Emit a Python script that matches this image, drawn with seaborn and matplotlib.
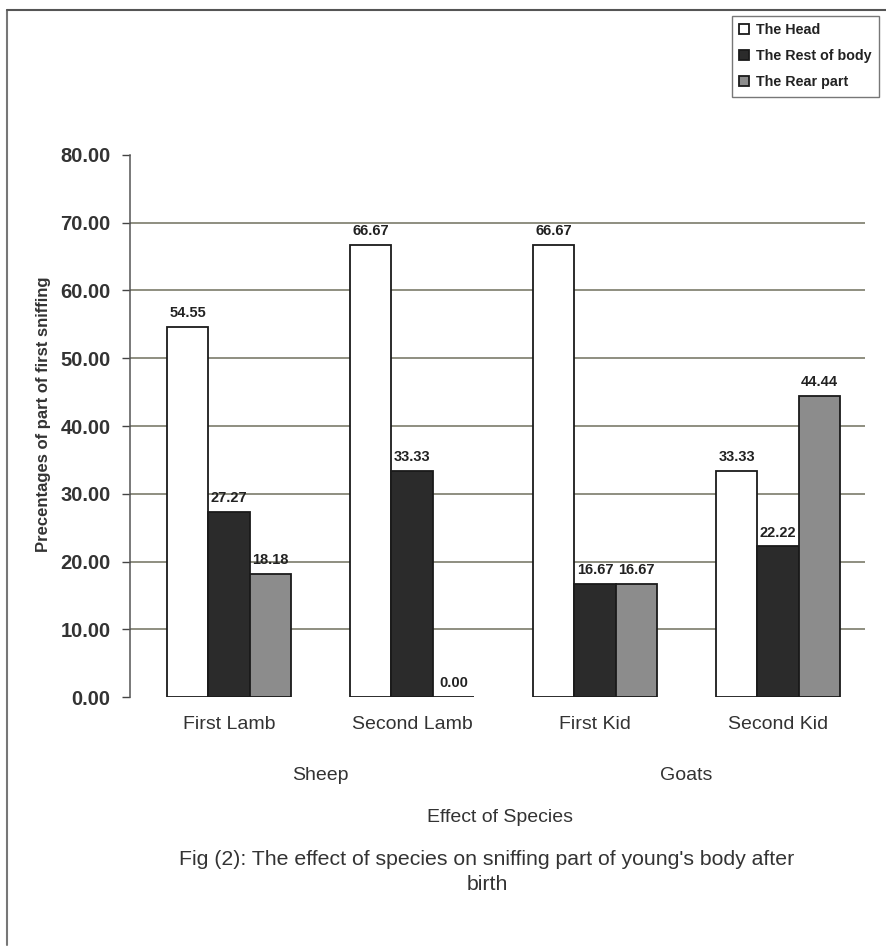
import numpy as np
import pandas as pd
import seaborn as sns
import matplotlib.pyplot as plt
from matplotlib.lines import Line2D
from matplotlib.transforms import blended_transform_factory

groups = ['First Lamb', 'Second Lamb', 'First Kid', 'Second Kid']
parts = ['The Head', 'The Rest of body', 'The Rear part']
head = [54.55, 66.67, 66.67, 33.33]
rest = [27.27, 33.33, 16.67, 22.22]
rear = [18.18, 0.00, 16.67, 44.44]
species = ['Sheep', 'Goats']

df = pd.DataFrame({
    'group': groups * 3,
    'part': [parts[0]] * 4 + [parts[1]] * 4 + [parts[2]] * 4,
    'value': head + rest + rear,
})

sns.set_style('white')
plt.rcParams['font.family'] = ['Liberation Sans', 'DejaVu Sans']

fig = plt.figure(figsize=(8.86, 9.49), dpi=100)
ax = fig.add_axes([0.1467, 0.2655, 0.8296, 0.5712])

pal = {'The Head': '#ffffff', 'The Rest of body': '#2b2b2b', 'The Rear part': '#8c8c8c'}
sns.barplot(df, x='group', y='value', hue='part', palette=pal, width=0.68,
            edgecolor='#1a1a1a', linewidth=1.3, ax=ax, saturation=1)

for c in ax.containers:
    ax.bar_label(c, fmt='%.2f', padding=5, fontsize=10.5, fontweight='bold', color='#222222')

ax.set_ylim(0, 80)
ax.set_xlim(-0.541, 3.475)
ax.set_yticks(np.arange(0, 81, 10))
ax.set_yticklabels([f'{v:.2f}' for v in np.arange(0, 81, 10)], fontsize=14.5, fontweight='bold', color='#333333')
ax.tick_params(axis='y', direction='out', length=6, width=1, color='#444444', pad=8, left=True)
ax.tick_params(axis='x', length=0, pad=14, labelsize=14, labelcolor='#333333')
ax.set_xlabel('')
ax.set_ylabel('Precentages of part of first sniffing', fontsize=12, fontweight='bold', color='#333333')
ax.yaxis.set_label_coords(-0.107, 0.522)

ax.yaxis.grid(True, color='#70705e', linewidth=1.1)
ax.set_axisbelow(True)
gl = ax.get_ygridlines()
gl[0].set_visible(False)
gl[-1].set_visible(False)

for s in ['top', 'right', 'bottom']:
    ax.spines[s].set_visible(False)
ax.spines['left'].set_color('#555555')
ax.spines['left'].set_linewidth(1.1)

tr = blended_transform_factory(ax.transData, fig.transFigure)
ax.text(0.5, 1 - 775 / 949, species[0], transform=tr, ha='center', va='center', fontsize=14, color='#333333')
ax.text(2.5, 1 - 775 / 949, species[1], transform=tr, ha='center', va='center', fontsize=14, color='#333333')

fig.text(500 / 886, 1 - 818 / 949, 'Effect of Species', ha='center', va='center', fontsize=14, color='#333333')
fig.text(487 / 886, 1 - 872 / 949,
         "Fig (2): The effect of species on sniffing part of young's body after\nbirth",
         ha='center', va='center', fontsize=15.3, color='#333333', linespacing=1.35)

handles, labels = ax.get_legend_handles_labels()
ax.get_legend().remove()
leg = fig.legend(handles, labels, loc='upper right', bbox_to_anchor=(879 / 886, 1 - 16 / 949),
                 prop={'weight': 'bold', 'size': 10.3}, frameon=True, fancybox=False,
                 edgecolor='#555555', handlelength=0.7, handleheight=0.7, handletextpad=0.5,
                 labelspacing=0.85, borderpad=0.5, borderaxespad=0)
for t in leg.get_texts():
    t.set_color('#222222')

# outer frame of the scanned figure
fig.add_artist(Line2D([7 / 886, 7 / 886], [1 - 10 / 949, 1 - 945 / 949], transform=fig.transFigure, color='#777777', lw=1.5))
fig.add_artist(Line2D([7 / 886, 1], [1 - 10 / 949, 1 - 10 / 949], transform=fig.transFigure, color='#555555', lw=1.5))

fig.savefig('out.png', dpi=100)
